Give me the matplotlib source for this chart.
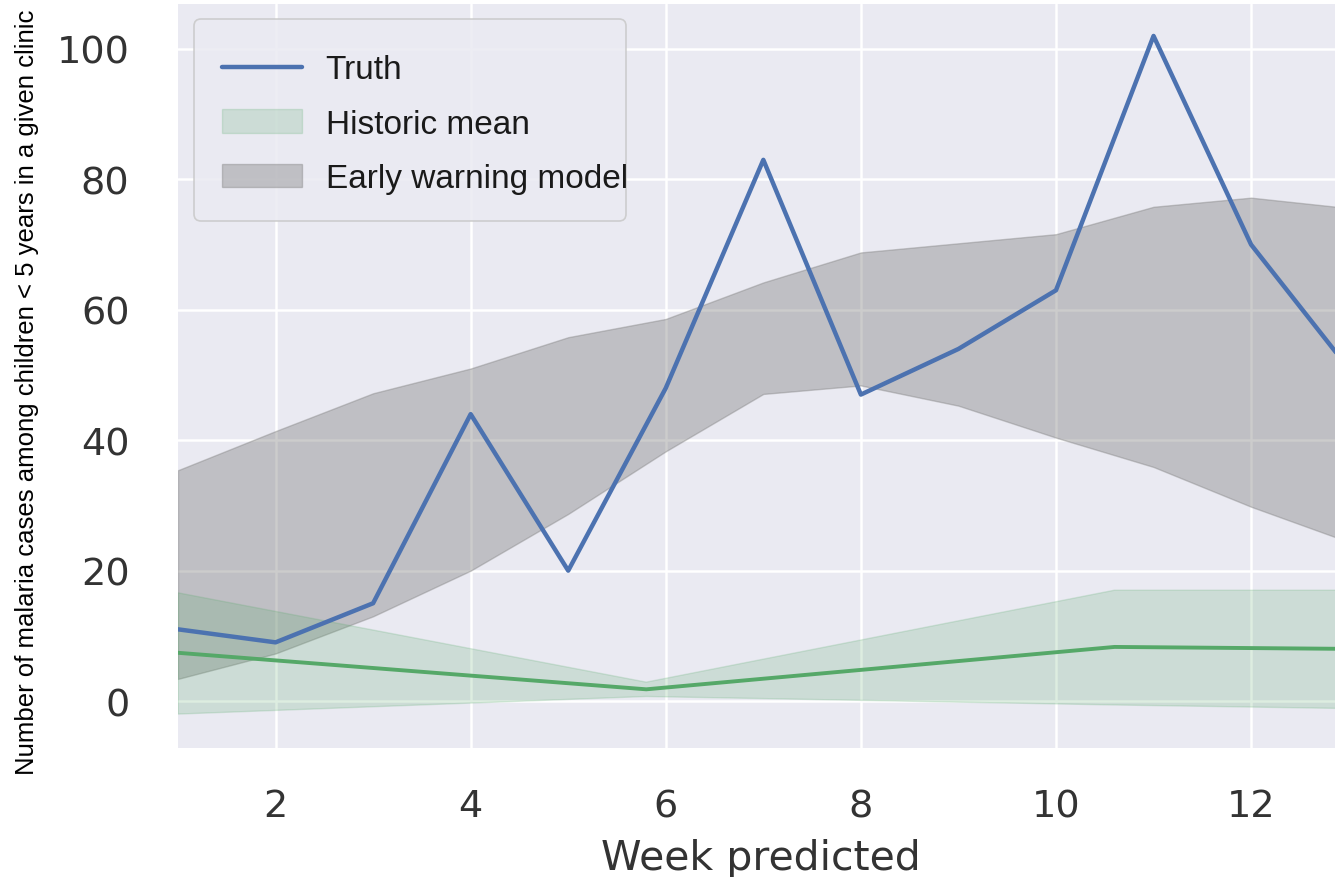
import matplotlib.pyplot as plt
from matplotlib.patches import FancyBboxPatch
from matplotlib.transforms import IdentityTransform

# weekly values
weeks = [1, 2, 3, 4, 5, 6, 7, 8, 9, 10, 11, 12, 13]
truth = [11, 9, 15, 44, 20, 48, 83, 47, 54, 63, 102, 70, 51]
ew_lower = [3.4, 7.3, 13, 20, 28.7, 38.3, 47.1, 48.4, 45.3, 40.4, 35.9, 29.8, 24.4]
ew_upper = [35.4, 41.4, 47.2, 51, 55.8, 58.6, 64.2, 68.8, 70.2, 71.6, 75.8, 77.2, 75.6]

# historic mean is on a coarser grid
hist_weeks = [1, 5.8, 10.6, 15.4]
hist_mean = [7.4, 1.8, 8.3, 7.7]
hist_lower = [-2.0, 0.7, -0.6, -1.7]
hist_upper = [16.6, 2.9, 17.0, 17.0]

plt.style.use("seaborn-v0_8-darkgrid")
plt.rcParams["grid.linewidth"] = 1.8
plt.rcParams["font.family"] = "DejaVu Sans"

W, H = 1335, 878
fig = plt.figure(figsize=(W / 100, H / 100), dpi=100)
ax = fig.add_axes([178 / W, 1 - 749 / H, 1 - 178 / W, (749 - 5) / H])

# bands
ew_band = ax.fill_between(weeks, ew_lower, ew_upper, color="gray", alpha=0.4,
                          label="Early warning model")
hist_band = ax.fill_between(hist_weeks, hist_lower, hist_upper, color="#55a868", alpha=0.2,
                            label="Historic mean")

# lines
truth_line, = ax.plot(weeks, truth, color="#4c72b0", linewidth=3.2, label="Truth")
ax.plot(hist_weeks, hist_mean, color="#55a868", linewidth=2.8)

ax.set_xlim(1, 12.86)
ax.set_ylim(-7.2, 106.9)
ax.set_xticks([2, 4, 6, 8, 10, 12])
ax.set_yticks([0, 20, 40, 60, 80, 100])
ax.tick_params(axis="both", labelsize=27.5, labelcolor="#333333", length=0)
ax.tick_params(axis="x", pad=29)
ax.tick_params(axis="y", pad=35)
ax.set_xlabel("Week predicted", fontsize=29.5, color="#333333")
ax.xaxis.set_label_coords((761 - 178) / (W - 178), -0.121)
ax.xaxis.label.set_va("top")

for s in ax.spines.values():
    s.set_visible(False)

fig.text(27 / W, 0.553, "Number of malaria cases among children < 5 years in a given clinic",
         rotation=90, ha="center", va="center", fontsize=18.5,
         family="Liberation Sans", color="black")

# legend frame drawn by hand so it hugs the text like the original
frame = FancyBboxPatch((194, H - 222), 432, 202, boxstyle="round,pad=0,rounding_size=7",
                       transform=IdentityTransform(), facecolor="#eaeaf2", alpha=0.85,
                       edgecolor="#c8c8c8", linewidth=1.2, zorder=4.9, clip_on=False)
ax.add_patch(frame)
frame.set_transform(IdentityTransform())

leg = ax.legend(handles=[truth_line, hist_band, ew_band],
                labels=["Truth", "Historic mean", "Early warning model"],
                loc="upper left", bbox_to_anchor=((189 - 178) / (W - 178), 1 - (22 - 5) / 744),
                borderaxespad=0, prop={"family": "Liberation Sans", "size": 24},
                frameon=False, handlelength=2.4, handletextpad=0.7, borderpad=1.0,
                labelspacing=0.7)
leg.set_zorder(6)
for t in leg.get_texts():
    t.set_color("#1a1a1a")

fig.savefig("out.png", dpi=100)
plt.close()
